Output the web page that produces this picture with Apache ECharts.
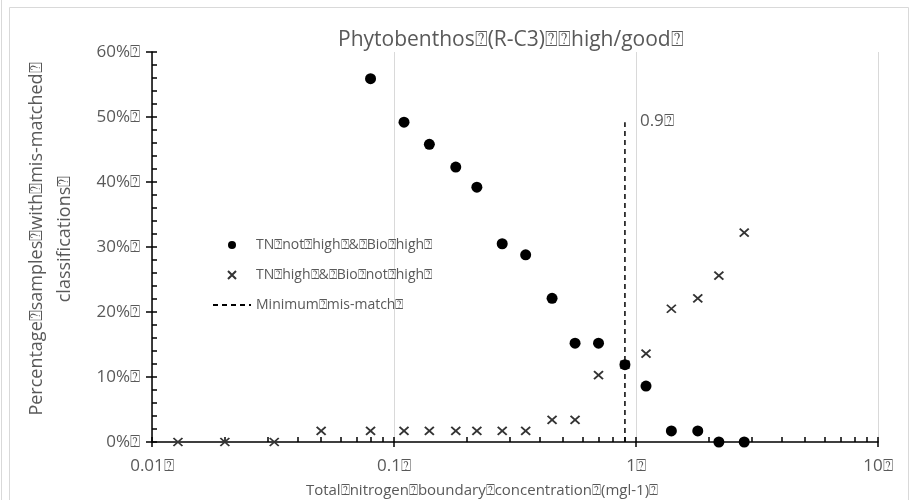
<!DOCTYPE html>
<html>
<head>
<meta charset="utf-8">
<script src="https://cdn.jsdelivr.net/npm/echarts@6/dist/echarts.min.js"></script>
<style>
  html, body { margin: 0; padding: 0; background: #fff; }
  #chart { width: 914px; height: 500px; }
</style>
</head>
<body>
<div id="chart"></div>
<script>
// TN boundary values (mg/l) and % of samples mis-matched
var tnBoundary = [0.08, 0.11, 0.14, 0.18, 0.22, 0.28, 0.35, 0.45, 0.56, 0.7, 0.9, 1.1, 1.4, 1.8, 2.2, 2.8];
var tnNotHighBioHigh = [55.9, 49.2, 45.8, 42.3, 39.2, 30.5, 28.8, 22.1, 15.2, 15.2, 11.9, 8.6, 1.7, 1.7, 0, 0];

var tnBoundary2 = [0.0128, 0.02, 0.032, 0.05, 0.08, 0.11, 0.14, 0.18, 0.22, 0.28, 0.35, 0.45, 0.56, 0.7, 0.9, 1.1, 1.4, 1.8, 2.2, 2.8];
var tnHighBioNotHigh = [0, 0, 0, 1.7, 1.7, 1.7, 1.7, 1.7, 1.7, 1.7, 1.7, 3.4, 3.4, 10.3, 11.9, 13.6, 20.5, 22.1, 25.6, 32.2];

var minMismatchX = [0.9, 0.9];
var minMismatchY = [0, 49.2];

var seriesNames = ['TN⍰not⍰high⍰&⍰Bio⍰high⍰', 'TN⍰high⍰&⍰Bio⍰not⍰high⍰', 'Minimum⍰mis-match⍰'];

var FONT = "'Open Sans', sans-serif";
var TXT = '#595959';
var crossPath = 'path://M0,0L10,10M10,0L0,10';

function pairs(xs, ys) {
  var out = [];
  for (var i = 0; i < xs.length; i++) out.push([xs[i], ys[i]]);
  return out;
}

// minor ticks of the log axis, 1..9 in every decade (log10 positions)
var xMinorTicks = [];
[0.01, 0.1, 1].forEach(function (d) {
  for (var k = 1; k <= 9; k++) xMinorTicks.push(Math.log10(k * d));
});
xMinorTicks.push(1);

var myChart = echarts.init(document.getElementById('chart'));
var option = {
  backgroundColor: '#fff',
  animation: false,
  textStyle: { fontFamily: FONT },
  title: {
    text: 'Phytobenthos⍰(R-C3)⍰⍰high/good⍰',
    left: 333, top: 25,
    textStyle: { fontFamily: FONT, fontSize: 21, fontWeight: 'normal', color: TXT }
  },
  graphic: [
    { type: 'rect', shape: { x: 9.5, y: 7.5, width: 899, height: 520 }, style: { fill: 'none', stroke: '#d9d9d9', lineWidth: 1 }, silent: true },
    { type: 'line', shape: { x1: 1.5, y1: 0, x2: 1.5, y2: 500 }, style: { stroke: '#d9d9d9', lineWidth: 1 }, silent: true }
  ],
  legend: {
    orient: 'vertical',
    left: 207, top: 232,
    itemWidth: 38, itemHeight: 8, itemGap: 14,
    textStyle: { fontFamily: FONT, fontSize: 14, color: TXT, lineHeight: 16 },
    data: [
      { name: seriesNames[0], icon: 'circle' },
      { name: seriesNames[1], icon: crossPath },
      { name: seriesNames[2], itemStyle: { color: 'transparent', borderColor: 'transparent', borderWidth: 0 } }
    ]
  },
  grid: [
    { left: 152, right: 36, top: 52, bottom: 58, outerBoundsMode: 'none', containLabel: false },
    { left: 152, right: 36, top: 52, bottom: 58, outerBoundsMode: 'none', containLabel: false }
  ],
  xAxis: [{
    type: 'log', logBase: 10, min: 0.01, max: 10, gridIndex: 0,
    name: 'Total⍰nitrogen⍰boundary⍰concentration⍰(mgl-1)⍰',
    nameLocation: 'middle', nameGap: 41,
    nameTextStyle: { fontFamily: FONT, fontSize: 15, color: TXT, padding: [0, 66, 0, 0] },
    axisLine: { show: true, onZero: false, lineStyle: { color: '#000', width: 1.5 } },
    axisTick: { show: true, inside: false, length: 5, lineStyle: { color: '#000', width: 1.5 } },
    axisLabel: {
      fontFamily: FONT, fontSize: 17, color: TXT, margin: 16,
      formatter: function (v) { return v + '⍰'; }
    },
    splitLine: { show: true, lineStyle: { color: '#d9d9d9', width: 1 } }
  }, {
    type: 'value', min: -2, max: 1, gridIndex: 1,
    axisLine: { show: false, onZero: false },
    axisTick: { show: true, inside: true, length: 5, customValues: xMinorTicks, lineStyle: { color: '#000', width: 1.5 } },
    axisLabel: { show: false },
    splitLine: { show: false }
  }],
  yAxis: [{
    type: 'value', min: 0, max: 60, interval: 10, gridIndex: 0,
    name: 'Percentage⍰samples⍰with⍰mis-matched⍰\nclassifications⍰',
    nameLocation: 'middle', nameGap: 73, nameRotate: 90,
    nameTextStyle: { fontFamily: FONT, fontSize: 18, color: TXT, lineHeight: 28, align: 'center', padding: [0, 0, 0, 16] },
    axisLine: { show: true, onZero: false, lineStyle: { color: '#000', width: 1.5 } },
    axisTick: { show: true, inside: false, length: 6, lineStyle: { color: '#000', width: 1.5 } },
    axisLabel: {
      fontFamily: FONT, fontSize: 17, color: TXT, margin: 12,
      formatter: function (v) { return v + '%⍰'; }
    },
    splitLine: { show: false }
  }, {
    type: 'value', min: 0, max: 60, interval: 2, gridIndex: 1,
    axisLine: { show: false, onZero: false },
    axisTick: { show: true, inside: true, length: 5, lineStyle: { color: '#000', width: 1.5 } },
    axisLabel: { show: false },
    splitLine: { show: false }
  }],
  series: [{
    name: seriesNames[1],
    type: 'scatter',
    xAxisIndex: 0, yAxisIndex: 0,
    symbol: crossPath,
    symbolSize: [9, 8],
    itemStyle: { color: '#333', borderColor: '#333', borderWidth: 1.8, opacity: 1 },
    data: pairs(tnBoundary2, tnHighBioNotHigh),
    z: 2
  }, {
    name: seriesNames[0],
    type: 'scatter',
    xAxisIndex: 0, yAxisIndex: 0,
    symbol: 'circle',
    symbolSize: 11,
    itemStyle: { color: '#000', opacity: 1 },
    data: pairs(tnBoundary, tnNotHighBioHigh),
    z: 3
  }, {
    name: seriesNames[2],
    type: 'line',
    xAxisIndex: 0, yAxisIndex: 0,
    symbol: 'none',
    lineStyle: { color: '#000', width: 1.5, type: [5, 4] },
    itemStyle: { color: '#000' },
    data: pairs(minMismatchX, minMismatchY),
    endLabel: {
      show: true, formatter: '0.9⍰', distance: 15, offset: [0, -1],
      fontFamily: FONT, fontSize: 17, color: TXT
    },
    z: 1
  }]
};
myChart.setOption(option);
</script>
</body>
</html>
